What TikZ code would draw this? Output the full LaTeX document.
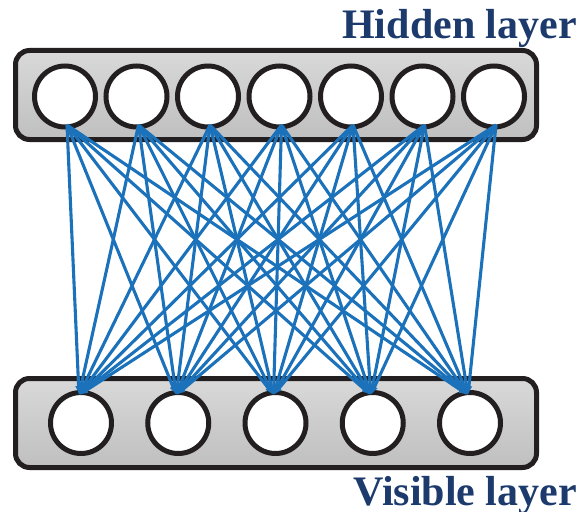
\documentclass[tikz,border=0pt]{standalone}
\usepackage{fontspec}
\setmainfont{Liberation Serif}
\usetikzlibrary{arrows.meta}
\definecolor{ringcol}{HTML}{231F20}
\definecolor{linkcol}{HTML}{1B72BA}
\definecolor{labelcol}{HTML}{1C3A6C}
\tikzset{
  layerbox/.style={draw=ringcol, line width=5pt, rounded corners=14pt,
    top color=black!15, bottom color=black!25},
  unit/.style={circle, draw=ringcol, line width=5pt, fill=white,
    minimum size=61pt, inner sep=0pt},
  link/.style={draw=linkcol, line width=3.1pt,
    -{Latex[length=9pt,width=7pt]}},
  layerlabel/.style={font=\bfseries\fontsize{42}{42}\selectfont,
    text=labelcol, inner sep=0pt, anchor=base east}
}
\begin{document}
\begin{tikzpicture}[x=1pt,y=-1pt]
  \useasboundingbox (0,0) rectangle (588,511);
  % layer frames
  \path[layerbox] (15.5,50.5) rectangle (536.5,139.5);
  \path[layerbox] (15.5,378.5) rectangle (536.5,467.5);
  % hidden units and their connection points
  \foreach \i in {1,...,7} {
    \node[unit] (h\i) at ({65+71.5*(\i-1)},96.5) {};
    \coordinate (hb\i) at ({67+71.5*(\i-1)},125);
  }
  % visible units and their connection points
  \foreach \j in {1,...,5} {
    \node[unit] (v\j) at ({81+97.25*(\j-1)},423) {};
    \coordinate (vt\j) at ({79+97.25*(\j-1)},395);
  }
  % full bipartite wiring
  \foreach \i in {1,...,7} {
    \foreach \j in {1,...,5} {
      \draw[link] (hb\i) -- (vt\j);
    }
  }
  % labels
  \node[layerlabel] (hl) at (577,38) {Hidden layer};
  \node[layerlabel] (vl) at (577,505) {Visible layer};
\end{tikzpicture}
\end{document}
